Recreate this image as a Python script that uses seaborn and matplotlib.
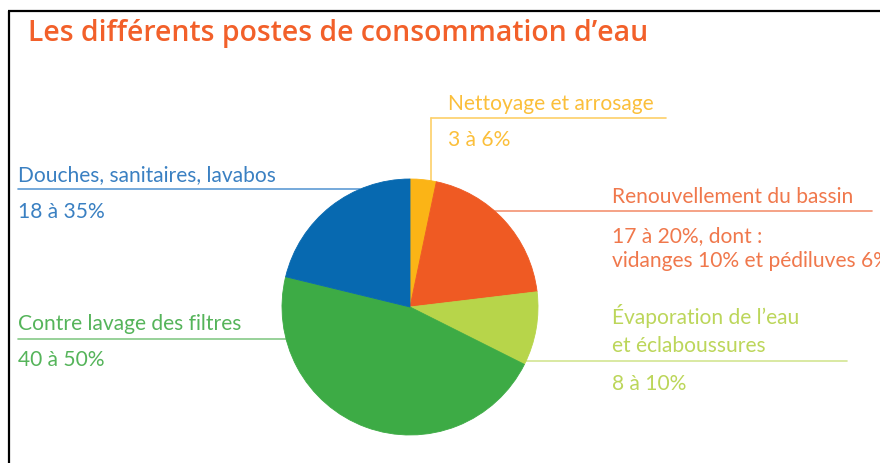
import numpy as np
import matplotlib
matplotlib.use("Agg")
import matplotlib.pyplot as plt
import seaborn as sns

# ---- data ----
categories = ["Nettoyage et arrosage", "Renouvellement du bassin",
              "Évaporation de l’eau\net éclaboussures", "Contre lavage des filtres",
              "Douches, sanitaires, lavabos"]
shares = [3.3, 19.8, 9.3, 46.4, 21.2]
ranges = ["3 à 6%", "17 à 20%, dont :\nvidanges 10% et pédiluves 6%", "8 à 10%",
          "40 à 50%", "18 à 35%"]
title = "Les différents postes de consommation d’eau"

# ---- style ----
sns.set_theme(style="white")
plt.rcParams["font.family"] = ["Lato", "DejaVu Sans"]

wedge_colors = sns.color_palette(["#fbb416", "#ef5a23", "#b7d54a", "#3dab45", "#0769b0"])
text_colors = ["#fbbf3a", "#f0784c", "#bcd65a", "#55b45a", "#3a80c2"]
line_colors = ["#fdd068", "#f49272", "#d3e592", "#86c987", "#5e9bd4"]

W, H, DPI = 880, 463, 100
fig = plt.figure(figsize=(W / DPI, H / DPI), dpi=DPI)
fig.patch.set_facecolor("white")

# overlay in pixel coordinates (behind the pie)
ov = fig.add_axes([0, 0, 1, 1], zorder=0)
ov.set_xlim(0, W)
ov.set_ylim(H, 0)
ov.axis("off")

# pie axes
cx, cy, r = 410, 307, 128
pa = fig.add_axes([(cx - r) / W, (H - cy - r) / H, 2 * r / W, 2 * r / H], zorder=1)
pa.patch.set_alpha(0)
wedges, _ = pa.pie(shares, colors=wedge_colors, startangle=90, counterclock=False,
                   radius=1, wedgeprops=dict(linewidth=0.6))
for w in wedges:
    w.set_edgecolor(w.get_facecolor())
pa.set_xlim(-1, 1)
pa.set_ylim(-1, 1)
pa.set_aspect("equal")
pa.axis("off")

# frame
ov.plot([8, W], [11, 11], color="black", lw=1.6, solid_capstyle="butt")
ov.plot([9, 9], [11, H], color="black", lw=1.6, solid_capstyle="butt")

# title (fit to the reference width)
t = ov.text(28, 40.5, title, color="#f2602a", fontsize=16, fontweight="semibold",
            va="baseline", ha="left", family=["Open Sans", "DejaVu Sans"])
fig.canvas.draw()
wpx = t.get_window_extent().width
t.set_fontsize(16 * 622 / wpx)

fs = 15.1


def label(x, y0, text, color, step=28):
    for i, line in enumerate(text.split("\n")):
        ov.text(x, y0 + i * step, line, color=color, fontsize=fs, va="baseline", ha="left")


def edge_x(y, side):
    dy = y - cy
    return cx + side * np.sqrt(max(r * r - dy * dy, 0))


# 0 Nettoyage (yellow) - vertical connector
label(448, 110, categories[0], text_colors[0])
ov.plot([431, 666], [118, 118], color=line_colors[0], lw=1.2)
ov.plot([431, 431], [118, cy - np.sqrt(r * r - (431 - cx) ** 2)], color=line_colors[0], lw=1.2)
label(448, 146, ranges[0], text_colors[0])

# 1 Renouvellement (orange)
label(612, 203, categories[1], text_colors[1])
ov.plot([edge_x(211, 1), 872], [211, 211], color=line_colors[1], lw=1.2)
label(612, 242, ranges[1], text_colors[1], step=25)

# 2 Évaporation (light green)
label(612, 324, categories[2], text_colors[2])
ov.plot([edge_x(361, 1), 847], [361, 361], color=line_colors[2], lw=1.2)
label(612, 390, ranges[2], text_colors[2])

# 3 Contre lavage (green)
label(18, 330, categories[3], text_colors[3])
ov.plot([18, edge_x(339, -1)], [339, 339], color=line_colors[3], lw=1.2)
label(18, 366, ranges[3], text_colors[3])

# 4 Douches (blue)
label(18, 181, categories[4], text_colors[4])
ov.plot([18, edge_x(189, -1)], [189, 189], color=line_colors[4], lw=1.2)
label(18, 218, ranges[4], text_colors[4])

fig.savefig("out.png", dpi=DPI)
